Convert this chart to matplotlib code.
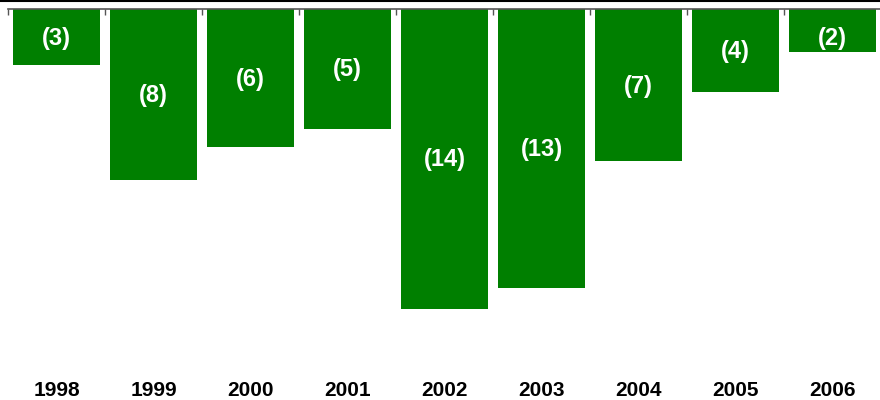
import matplotlib
matplotlib.use('Agg')
import matplotlib.pyplot as plt
from matplotlib.lines import Line2D
import matplotlib.transforms as mtransforms

# data
years = ['1998', '1999', '2000', '2001', '2002', '2003', '2004', '2005', '2006']
values = [-2.63, -8.0, -6.48, -5.6, -14.0, -13.02, -7.13, -3.91, -2.02]
labels = ['(3)', '(8)', '(6)', '(5)', '(14)', '(13)', '(7)', '(4)', '(2)']

plt.rcParams['font.family'] = ['Liberation Sans', 'DejaVu Sans']

W, H = 880, 400
fig = plt.figure(figsize=(W / 100, H / 100), dpi=100)

# axes box in pixels (from top-left)
left, right, top, bottom = 8, 881, 8.5, 370
ax = fig.add_axes([left / W, 1 - bottom / H, (right - left) / W, (bottom - top) / H])

x = list(range(len(years)))
ax.bar(x, values, width=0.9, color='#007f00', zorder=2)

px_per_unit = 21.43
ax.set_xlim(-0.5, len(years) - 0.5)
ax.set_ylim(-(bottom - top) / px_per_unit, 0)

# labels sit mid-bar, but never closer to the top than a small bar allows
for xi, v, lab in zip(x, values, labels):
    ax.text(xi, min(v / 2, -1.32) - 0.06, lab, ha='center', va='center',
            color='white', fontsize=17, fontweight='bold')

# year labels below the plot area
trans = mtransforms.blended_transform_factory(ax.transData, fig.transFigure)
for xi, yr in zip(x, years):
    ax.text(xi, 1 - 391 / H, yr, ha='center', va='center', color='black',
            fontsize=15, fontweight='bold', transform=trans)

# only the top axis line with small ticks at category boundaries
for s in ['left', 'right', 'bottom']:
    ax.spines[s].set_visible(False)
ax.spines['top'].set_color('#555555')
ax.spines['top'].set_linewidth(1.2)
ax.set_yticks([])
ax.xaxis.tick_top()
ax.set_xticks([i - 0.5 for i in range(len(years) + 1)])
ax.set_xticklabels([])
ax.tick_params(axis='x', direction='in', length=4, width=1, color='#555555')

# black rule at the very top of the image
fig.add_artist(Line2D([0, 1], [1 - 1 / H, 1 - 1 / H], color='black',
                      linewidth=1.5, transform=fig.transFigure))

fig.savefig('out.png', dpi=100)
